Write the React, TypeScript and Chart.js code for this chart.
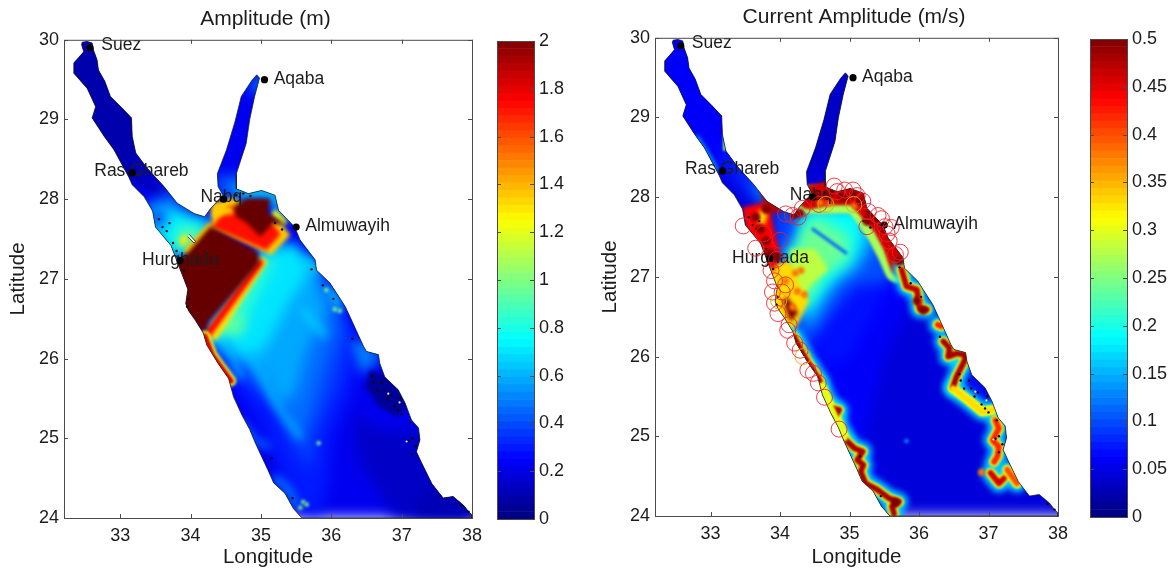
import React, { useEffect, useRef } from "react";
import { Chart, registerables } from "chart.js";

type P = [number, number];

const ampTitle = "Amplitude (m)";
const curTitle = "Current Amplitude (m/s)";
const lonTicks = [33, 34, 35, 36, 37, 38];
const latTicks = [24, 25, 26, 27, 28, 29, 30];
const ampBarTicks = [0, 0.2, 0.4, 0.6, 0.8, 1, 1.2, 1.4, 1.6, 1.8, 2];
const curBarTicks = [0, 0.05, 0.1, 0.15, 0.2, 0.25, 0.3, 0.35, 0.4, 0.45, 0.5];
const barLevels = [0,1,2,3,4,5,6,7,8,9,10,11,12,13,14,15,16,17,18,19,20,21,22,23,24,25,26,27,28,29,30,31,32,33,34,35,36,37,38,39,40,41,42,43,44,45,46,47,48,49,50,51,52,53,54,55,56,57,58,59,60,61,62,63];

const cities: [string, number, number][] = [["Suez", 32.57, 29.9], ["Aqaba", 35.05, 29.5], ["Ras Ghareb", 33.17, 28.33], ["Nabq", 34.47, 28.0], ["Almuwayih", 35.5, 27.65], ["Hurghada", 33.85, 27.23]];
const cityLabelAnchors: P[] = [[32.73, 29.93], [35.18, 29.51], [32.63, 28.35], [34.14, 28.02], [35.63, 27.66], [33.31, 27.24]];

const coast: P[] = [[32.46,29.97],[32.53,29.98],[32.6,29.96],[32.62,29.87],[32.67,29.75],[32.69,29.62],[32.78,29.48],[32.86,29.29],[33.03,29.14],[33.16,29.02],[33.17,28.79],[33.22,28.58],[33.38,28.39],[33.62,28.16],[33.81,27.95],[34.05,27.82],[34.2,27.78],[34.28,27.88],[34.46,28.05],[34.39,28.16],[34.38,28.32],[34.51,28.62],[34.63,28.97],[34.72,29.29],[34.87,29.49],[34.94,29.56],[34.98,29.52],[34.91,29.29],[34.84,29],[34.79,28.7],[34.65,28.32],[34.65,28.13],[34.82,28.07],[35.01,28.11],[35.2,28.05],[35.25,27.86],[35.48,27.65],[35.555,27.49],[35.77,27.24],[35.79,27.11],[35.98,26.95],[36.2,26.65],[36.31,26.44],[36.46,26.15],[36.5,26.09],[36.67,26.05],[36.69,25.94],[36.76,25.77],[36.95,25.61],[37.05,25.44],[37.14,25.23],[37.24,25.13],[37.26,24.98],[37.21,24.83],[37.28,24.7],[37.43,24.43],[37.59,24.25],[37.73,24.27],[37.88,24.16],[37.95,24.08],[38,24.04],[38,24],[35.58,24],[35.46,24.12],[35.34,24.31],[35.18,24.44],[35.1,24.6],[35.01,24.77],[34.92,24.94],[34.84,25.11],[34.73,25.29],[34.61,25.52],[34.54,25.75],[34.39,25.94],[34.23,26.17],[34.18,26.32],[34.06,26.49],[33.97,26.6],[33.93,26.69],[33.96,26.87],[33.82,27.19],[33.72,27.42],[33.5,27.65],[33.46,27.85],[33.34,28.03],[33.17,28.18],[33.12,28.28],[32.91,28.62],[32.77,28.79],[32.6,29.02],[32.65,29.16],[32.53,29.39],[32.34,29.58],[32.34,29.71],[32.48,29.85],[32.45,29.94]];

const everywhere: P[] = [[32,24],[38.2,24],[38.2,30.2],[32,30.2]];

const reefs: P[] = [[33.6,27.65],[33.66,27.6],[33.7,27.7],[33.75,27.45],[33.8,27.35],[33.55,27.75],[33.9,27.1],[33.97,26.75],[33.95,26.65],[34.65,28.05],[34.7,28.03],[34.75,28.07],[34.85,28.04],[35.2,27.7],[35.3,27.62],[35.72,27.12],[35.88,26.92],[36.03,26.75],[36.3,26.25],[36.6,25.7],[36.75,25.6],[36.9,25.4],[36.95,25.35],[36.8,25.5],[36.65,25.6],[36.58,25.78],[36.72,25.7],[36.85,25.55],[37,25.3],[36.98,25.5],[37.12,25.2],[37.1,24.97],[37.15,25],[37.15,24.8],[37.2,24.9],[37.85,24.15],[37.95,24.08],[35.15,24.75],[35.45,24.25]];
const reefLights: P[] = [[36.81,25.56],[36.97,25.45],[37.07,24.96]];
const islands: P[] = [[33.98,27.56],[34.07,27.47],[34.05,27.45],[33.96,27.53]];

/* Amplitude panel: [value in m, outline] contour bands */
const ampBands: [number, P[]][] = [
  [0.22, everywhere],
  [0.09, [[32.2,30],[33.4,30],[33.4,28.9],[33.6,28.35],[33.75,28.1],[33.55,28.05],[33,28.3],[32.2,29]]],
  [0.16, [[33.2,28.55],[33.45,28.5],[33.75,28.15],[33.6,28.05],[33.3,28.2]]],
  [0.38, [[33.55,28.05],[33.72,28.2],[33.95,27.95],[33.7,27.85]]],
  [0.14, [[36.3,25.3],[36.7,25.1],[37.4,25.1],[38,24.3],[38,24],[36.9,24],[36.4,24.7]]],
  [0.1, [[37.1,24],[37.5,24.5],[38,24.3],[38,24]]],
  [0.55, [[34.8,29.4],[35.1,29.6],[35.1,29.35],[34.95,29.35]]],
  [0.42, [[34.35,28.3],[34.75,28.3],[34.7,28.05],[34.35,28.05]]],
  [0.3, [[34.1,26.4],[35.2,27.6],[36,27],[36.4,26.2],[36.3,25.6],[36,25],[35.95,24.4],[35.8,24],[35.5,24.2],[35.2,24.7],[35,25.2],[34.75,25.5],[34.55,25.8]]],
  [0.38, [[34.15,26.35],[35.2,27.5],[35.95,27],[36.25,26.3],[36.1,25.7],[35.8,25.1],[35.7,24.6],[35.45,24.9],[35.2,25.4],[34.8,25.7],[34.6,25.85]]],
  [0.47, [[34.2,26.3],[35.15,27.45],[35.85,27.05],[36.1,26.4],[35.9,25.9],[35.7,25.3],[35.55,25],[35.35,25.3],[35.05,25.65],[34.7,25.95]]],
  [0.58, [[34.22,26.3],[35.1,27.45],[35.7,27.2],[35.95,26.6],[35.65,26.1],[35.5,25.6],[35.3,25.4],[35,25.85],[34.7,26.05]]],
  [0.7, [[34.3,26.3],[35.05,27.3],[35.5,27.45],[35.7,27.1],[35.4,26.7],[35.1,26.2],[34.9,26],[34.55,26.1]]],
  [0.85, [[34.3,26.35],[35.05,27.3],[35.2,27.25],[34.65,26.28]]],
  [0.95, [[34.3,26.4],[34.55,26.6],[34.8,26.45],[34.7,26.33],[34.4,26.3]]],
  [1.3, [[34.22,26.3],[35,27.28],[35.1,27.22],[34.36,26.22]]],
  [1.75, [[34.2,26.33],[34.98,27.27],[35.04,27.2],[34.28,26.27]]],
  [0.72, [[33.4,27.95],[33.65,27.95],[33.8,27.9],[34.05,27.8],[34.3,27.75],[34.3,27.6],[33.9,27.25],[33.7,27.3],[33.4,27.6]]],
  [0.25, [[33.45,27.87],[33.65,27.85],[33.62,27.68],[33.47,27.65]]],
  [0.95, [[33.8,27.62],[34.05,27.65],[34.2,27.55],[33.95,27.35],[33.8,27.4]]],
  [1.3, [[33.85,27.52],[33.95,27.56],[33.95,27.45],[33.85,27.42]]],
  [1.35, [[33.9,27.36],[34.27,27.72],[34.35,27.62],[34,27.27]]],
  [0.72, [[34.62,28.2],[35.25,28.15],[35.45,27.7],[35.25,27.8],[35.15,28],[34.65,28]]],
  [1.2, [[35.2,27.88],[35.38,27.72],[35.3,27.66],[35.14,27.8]]],
  [1.35, [[34.3,27.95],[34.6,28.02],[34.9,27.85],[35.3,27.68],[35.42,27.55],[35.15,27.3],[34.3,27.62]]],
  [1.72, [[34.55,27.92],[34.8,27.85],[35.2,27.66],[35.28,27.56],[35.08,27.36],[34.3,27.65]]],
  [1.35, [[34.32,27.9],[34.6,27.9],[34.62,27.82],[34.3,27.78]]],
  [2.05, [[34.61,27.91],[34.8,28.01],[35.13,28.01],[35.1,27.82],[35.37,27.68],[35.18,27.7],[34.99,27.53],[34.8,27.7],[34.65,27.78]]],
  [2.05, [[34.28,27.66],[34.96,27.33],[34.97,27.19],[34.25,26.46],[34.2,26.3],[33.9,26.55],[33.75,27.19],[33.96,27.33]]],
  [0.6, [[36.35,26.25],[36.5,26.15],[36.6,26],[36.5,25.8],[36.4,25.9]]],
  [0.05, [[36.55,25.86],[36.48,25.65],[36.67,25.4],[36.93,25.27],[37.1,25.4],[36.98,25.65],[36.76,25.8]]],
  [0.16, [[34.99,24.83],[35.13,24.65],[35,24.6],[34.9,24.8]]],
];

const ampPlumes: [number, P[]][] = [
  [0.62, [[34.84,26.07],[35.27,25.36],[35.55,25.02]]],
  [0.6, [[34.51,26.23],[34.7,25.77]]],
  [0.66, [[35.6,26.6],[35.9,26.3]]],
  [0.48, [[34.72,25.2],[34.95,24.95],[35.1,24.9]]],
  [0.55, [[35.2,24.5],[35.4,24.35],[35.5,24.15]]],
  [0.5, [[36.35,26.15],[36.5,26.08],[36.65,26]]],
  [0.72, [[35.65,27.25],[35.78,27.1]]],
  [0.72, [[36,26.85],[36.12,26.65]]],
];
const ampBright: P[] = [[35.6,24.2],[35.56,24.13],[35.65,24.17],[35.82,24.94],[35.93,26.86],[36.05,26.62],[36.12,26.6]];
const ampCoastHot: P[] = [[34.2,26.28],[34.3,26.05],[34.42,25.9],[34.57,25.72]];

/* Current panel */
const curBands: [number, P[]][] = [
  [0.045, everywhere],
  [0.06, [[32.2,30],[33.3,30],[33.3,29],[33.6,28.5],[33.3,28.2],[32.2,29]]],
  [0.08, [[33.1,28.6],[33.5,28.5],[33.75,28.1],[33.5,28]]],
  [0.13, [[33.6,28.2],[33.75,28.25],[34,27.9],[33.7,27.9]]],
  [0.035, [[34.3,28.4],[35,28.4],[35,29.6],[34.3,29.6]]],
  [0.06, [[34.1,26.5],[35.4,27.2],[35.9,26.8],[35.5,26],[35.2,25],[35.6,24],[35,24],[34.3,25.8]]],
  [0.07, [[34.2,26.4],[35.2,27.1],[35.5,26.8],[35,26],[34.7,25.9]]],
  [0.1, [[33.9,28.1],[34.2,27.85],[34.5,27.95],[35,27.9],[35.5,27.6],[35.7,27.25],[35.55,26.9],[35.1,26.9],[34.7,26.5],[34.35,26.1],[34.2,26.3]]],
  [0.14, [[34.2,27.8],[35.3,27.8],[35.35,27.4],[35.15,27.1],[34.8,26.9],[34.45,26.35],[34.2,26.6],[34,27.3]]],
  [0.19, [[34.4,27.85],[35.2,27.85],[35.2,27.45],[35.05,27.2],[34.7,26.9],[34.35,26.5],[34.1,27.2],[34.2,27.5]]],
  [0.24, [[34.4,27.7],[34.55,27.75],[35,27.5],[34.97,27.2],[34.65,27.05],[34.35,26.6],[34.2,27.1],[34.2,27.4]]],
  [0.09, [[33.92,27.8],[34.2,27.76],[34.16,27.45],[33.98,27.35],[33.95,27.6]]],
  [0.28, [[34.15,27.35],[34.5,27.35],[34.7,27.1],[34.45,26.9],[34.3,26.7],[34.15,27]]],
  [0.33, [[33.8,27.15],[34.15,27.2],[34.3,26.85],[34.42,26.7],[34.22,26.35],[34.3,26.1],[34.1,26.3],[33.85,26.7]]],
  [0.5, [[34.1,26.75],[34.26,26.55],[34.15,26.43],[34.04,26.7]]],
  [0.44, [[33.45,27.87],[33.85,27.95],[33.9,27.65],[34,27.3],[33.9,27.05],[33.75,27.25],[33.5,27.6]]],
  [0.33, [[33.7,27.85],[33.82,27.8],[33.78,27.65],[33.68,27.68]]],
  [0.47, [[33.72,28.12],[33.95,27.97],[34.08,27.82],[33.85,27.8],[33.75,27.95]]],
  [0.46, [[35.6,27.4],[35.8,27.36],[35.82,27.15],[35.65,27.15]]],
  [0.07, [[36.56,25.85],[36.75,25.77],[37,25.5],[36.95,25.35],[36.7,25.48],[36.55,25.62]]],
];

const curBlueBand: P[] = [[34.47,27.6],[34.95,27.3]];
const curNorthHalo: P[] = [[34.4,27.97],[34.7,27.97],[35.1,27.97],[35.3,27.75],[35.45,27.55],[35.6,27.3],[35.7,27.1]];
const curNorthHot: P[] = [[34.42,28],[34.7,28.05],[35.1,28.05],[35.3,27.85],[35.5,27.65],[35.65,27.4],[35.75,27.15]];
const curGulfCoastA: P[] = [[32.8,28.75],[32.95,28.55],[33.08,28.35]];
const curGulfCoastB: P[] = [[33.2,28.78],[33.2,28.6]];

const curReefPaths: [number, P[]][] = [
  [0.47, [[35.75,27.09],[35.82,26.88],[35.97,26.84],[35.99,26.71],[36.01,26.6],[36.11,26.59]]],
  [0.42, [[36.27,26.4],[36.32,26.38]]],
  [0.48, [[36.35,26.19],[36.44,26.11],[36.42,26],[36.54,26.04],[36.68,26.02],[36.65,25.94],[36.54,25.75],[36.49,25.62]]],
  [0.33, [[36.49,25.6],[36.7,25.46],[36.91,25.31],[37.06,25.33]]],
  [0.42, [[37.1,25.2],[37.15,25.1],[37.06,24.95],[37.15,24.87],[37.13,24.75],[37.08,24.68]]],
  [0.46, [[37.03,24.54],[37.15,24.41],[37.22,24.47]]],
  [0.4, [[37.27,24.58],[37.41,24.41]]],
  [0.48, [[34.2,26.25],[34.35,26],[34.57,25.7]]],
  [0.48, [[34.76,25.35],[34.85,25.33],[34.78,25.23]]],
  [0.48, [[34.95,24.95],[35.07,24.85],[35.19,24.81],[35.11,24.7],[35.2,24.64],[35.16,24.56],[35.23,24.41],[35.4,24.33],[35.57,24.22],[35.71,24.18],[35.61,24.12],[35.64,24.03]]],
  [0.3, [[34.6,25.62],[34.7,25.42],[34.85,25.15],[34.93,24.98]]],
];
const curHotSpots: P[] = [[34.5,28.02],[34.7,28.03],[34.9,28],[35.05,28.03],[35.15,27.95],[35.3,27.8],[35.4,27.7],[35.5,27.6],[35.72,27.2],[33.65,27.75],[33.72,27.6],[33.8,27.45],[33.85,27.3],[33.95,27.25],[33.8,27.85],[35.25,27.7],[34.2,27.78],[34.28,27.8],[35.97,26.7],[36.06,26.58],[35.66,24.17]];
const curWarmSpots: P[] = [[34.22,27.05],[34.3,27.08],[34.25,26.82],[34.35,26.78],[34.08,26.95],[34.18,26.62],[34.7,27.92],[34.58,27.93],[35.08,27.9],[36.01,26.7],[36.9,24.55]];
const curPaleSpots: P[] = [[35.82,24.94],[36.05,26.95]];
const curCircles: P[] = [[33.47,27.64],[33.65,27.36],[34,27.46],[33.95,27.22],[34.26,27.75],[34.08,27.79],[34.18,27.77],[34.32,27.86],[34.56,27.91],[34.78,28.14],[34.82,28.07],[34.93,28.09],[35.05,28.09],[35.11,28.02],[35.19,27.95],[35.27,27.82],[35.41,27.77],[35.46,27.73],[35.51,27.63],[35.54,27.54],[35.57,27.45],[35.73,27.31],[35.25,27.63],[33.87,27.08],[33.92,26.95],[33.89,26.81],[33.92,26.67],[34.03,26.81],[34.08,26.9],[33.97,26.54],[34.13,26.4],[34.11,26.33],[34.21,26.17],[34.29,26.08],[34.4,25.83],[34.48,25.79],[34.55,25.67],[34.64,25.49],[34.85,25.09],[33.76,27.54],[35.66,27.28],[35.6,27.62]];
const curYellowCircles: P[] = [[34.66,27.91],[35.06,27.91],[33.98,26.7],[34.33,26]];

const jet = (v: number, max: number) => {
  const t = v / max;
  const c = (a: number) => Math.round(255 * Math.max(0, Math.min(1, a)));
  return `rgb(${c(Math.min(4 * t - 1.5, -4 * t + 4.5))},${c(Math.min(4 * t - 0.5, -4 * t + 3.5))},${c(Math.min(4 * t + 0.5, -4 * t + 2.5))})`;
};
const xy = (pts: P[]) => pts.map(([x, y]) => ({ x, y }));

const FONT = "'Liberation Sans', Arial, sans-serif";
const INK = "#1c1c1c";

const panelPaint = {
  id: "panelPaint",
  afterLayout(chart: any) {
    if (chart.titleBlock && chart.options.plugins.title.display) chart.titleBlock.left -= 5;
  },
  beforeDatasetDraw(chart: any, args: any) {
    const ds = chart.data.datasets[args.index];
    if (!ds) return;
    const ctx = chart.ctx;
    if (ds.cityLabelsFirst) {
      const { x, y } = chart.scales;
      ctx.save();
      ctx.font = `17.5px ${FONT}`;
      ctx.fillStyle = INK;
      ctx.textBaseline = "middle";
      cities.forEach((c, i) => ctx.fillText(c[0], x.getPixelForValue(cityLabelAnchors[i][0]), y.getPixelForValue(cityLabelAnchors[i][1])));
      ctx.restore();
    }
    if (ds.fieldLayer) {
      const { x, y } = chart.scales;
      ctx.save();
      ctx.beginPath();
      coast.forEach((p, i) => {
        const a = x.getPixelForValue(p[0]);
        const b = y.getPixelForValue(p[1]);
        if (i) ctx.lineTo(a, b);
        else ctx.moveTo(a, b);
      });
      ctx.closePath();
      ctx.clip();
      ctx.filter = `blur(${ds.fieldBlur}px)`;
    }
  },
  afterDatasetDraw(chart: any, args: any) {
    const ds = chart.data.datasets[args.index];
    if (ds && ds.fieldLayer) chart.ctx.restore();
  },
  afterDraw(chart: any) {
    const { ctx, chartArea: a, scales } = chart;
    const { left, right, top, bottom } = a;
    ctx.save();
    ctx.strokeStyle = "#4a4a4a";
    ctx.lineWidth = 1;
    const seg = (x1: number, y1: number, x2: number, y2: number) => {
      ctx.beginPath();
      ctx.moveTo(x1, y1);
      ctx.lineTo(x2, y2);
      ctx.stroke();
    };
    ctx.strokeRect(left + 0.5, top + 0.5, right - left, bottom - top);
    if (scales.x && scales.x.options.display) {
      scales.x.ticks.forEach((t: any) => {
        const p = Math.round(scales.x.getPixelForValue(t.value)) + 0.5;
        seg(p, bottom, p, bottom - 4);
        seg(p, top, p, top + 4);
      });
    }
    scales.y.ticks.forEach((t: any) => {
      const p = Math.round(scales.y.getPixelForValue(t.value)) + 0.5;
      seg(left, p, left + 4, p);
      seg(right, p, right - 4, p);
    });
    ctx.restore();
  },
};

Chart.register(panelPaint as any, ...registerables);

const bandBlur = (ratio: number) => (ratio > 0.5 || ratio < 0.05 ? 2 : 7);
const bandDs = (v: number, max: number, pts: P[]) => ({ data: xy(pts), showLine: true, fill: "shape", backgroundColor: jet(v, max), borderWidth: 0, pointRadius: 0, fieldLayer: true, fieldBlur: bandBlur(v / max) });
const lineDs = (v: number, max: number, pts: P[], w: number, blur = 1.5) => ({ data: xy(pts), showLine: true, fill: false, borderColor: jet(v, max), borderWidth: w, borderCapStyle: "round", borderJoinStyle: "round", pointRadius: 0, fieldLayer: true, fieldBlur: blur });
const spotDs = (v: number, max: number, pts: P[], r: number) => ({ data: xy(pts), showLine: false, pointRadius: r, pointBackgroundColor: jet(v, max), pointBorderWidth: 0, fieldLayer: true, fieldBlur: 1.5 });
const coastDs = () => ({ data: xy([...coast, coast[0]]), showLine: true, fill: false, borderColor: "rgba(20,30,20,0.8)", borderWidth: 0.9, pointRadius: 0 });
const islandDs = () => ({ data: xy(islands), showLine: true, fill: "shape", backgroundColor: "#ffffff", borderColor: "#111", borderWidth: 0.8, pointRadius: 0 });
const reefDs = (extra: object = {}) => ({ data: xy(reefs), showLine: false, pointRadius: 1.2, pointBackgroundColor: "#0a0a0a", pointBorderWidth: 0, ...extra });
const lightDs = () => ({ data: xy(reefLights), showLine: false, pointRadius: 1.1, pointBackgroundColor: "#e8e8e8", pointBorderWidth: 0 });
const dotDs = () => ({ data: cities.map((c) => ({ x: c[1], y: c[2] })), showLine: false, pointRadius: 3.6, pointBackgroundColor: "#000", pointBorderWidth: 0 });
const ringDs = (pts: P[], color: string) => ({ data: xy(pts), showLine: false, pointRadius: 8, pointBackgroundColor: "transparent", pointBorderColor: color, pointBorderWidth: 1 });

const withOrder = (list: any[]) => list.map((d, i) => ({ ...d, order: list.length - i }));

const ampDatasets = () => withOrder([
  ...ampBands.map(([v, p]) => bandDs(v, 2, p)),
  ...ampPlumes.map(([v, p]) => lineDs(v, 2, p, 6, 5)),
  spotDs(1.0, 2, ampBright, 2.2),
  lineDs(1.2, 2, ampCoastHot, 11),
  lineDs(1.8, 2, ampCoastHot, 6, 1),
  coastDs(), islandDs(), reefDs({ cityLabelsFirst: true }), lightDs(), dotDs(),
]);
const curDatasets = () => withOrder([
  ...curBands.map(([v, p]) => bandDs(v, 0.5, p)),
  lineDs(0.11, 0.5, curBlueBand, 3),
  lineDs(0.15, 0.5, curGulfCoastA, 4, 2),
  lineDs(0.25, 0.5, curGulfCoastB, 3, 1),
  lineDs(0.27, 0.5, curNorthHalo, 28),
  lineDs(0.46, 0.5, curNorthHot, 24),
  ...curReefPaths.map(([, p]) => lineDs(0.17, 0.5, p, 18, 3)),
  ...curReefPaths.map(([, p]) => lineDs(0.31, 0.5, p, 10, 1)),
  ...curReefPaths.map(([v, p]) => lineDs(v, 0.5, p, 6, 0.8)),
  spotDs(0.38, 0.5, curWarmSpots, 3.5),
  spotDs(0.15, 0.5, curPaleSpots, 2),
  coastDs(),
  reefDs({ cityLabelsFirst: true }),
  lightDs(),
  spotDs(0.5, 0.5, curHotSpots, 4.5),
  dotDs(), ringDs(curCircles, "rgba(240,30,40,0.85)"), ringDs(curYellowCircles, "rgba(230,170,0,0.9)"),
]);

type Geo = { left: number; width: number; plotLeft: number; plotRight: number; plotTop: number; plotBottom: number; yTitlePad: number };

const mapConfig = (g: Geo, title: string, datasets: any[]) => ({
  type: "scatter",
  data: { datasets },
  options: {
    responsive: false,
    animation: false,
    events: [],
    layout: { padding: { right: g.left + g.width - g.plotRight } },
    plugins: {
      legend: { display: false },
      tooltip: { enabled: false },
      title: { display: true, text: title, fullSize: false, color: INK, font: { family: FONT, size: 21, weight: "normal", lineHeight: 1.2 }, padding: { top: g.plotTop - 33.4, bottom: 8 } },
    },
    scales: {
      x: {
        type: "linear", min: 32.2, max: 38,
        afterBuildTicks: (s: any) => { s.ticks = lonTicks.map((value) => ({ value })); },
        afterFit: (s: any) => { s.height = 573 - g.plotBottom; },
        grid: { display: false, drawTicks: false },
        border: { display: false },
        ticks: { color: INK, font: { family: FONT, size: 18 }, padding: 7, maxRotation: 0, autoSkip: false, callback: (v: number) => String(v) },
        title: { display: true, text: "Longitude", color: INK, font: { family: FONT, size: 20.5 }, padding: { top: 0, bottom: 3 } },
      },
      y: {
        type: "linear", min: 24, max: 30,
        afterBuildTicks: (s: any) => { s.ticks = latTicks.map((value) => ({ value })); },
        afterFit: (s: any) => { s.width = g.plotLeft - g.left; },
        grid: { display: false, drawTicks: false },
        border: { display: false },
        ticks: { color: INK, font: { family: FONT, size: 18 }, padding: 5, autoSkip: false, callback: (v: number) => String(v) },
        title: { display: true, text: "Latitude", color: INK, font: { family: FONT, size: 20.5 }, padding: { top: g.yTitlePad, bottom: 0 } },
      },
    },
  },
});

const barConfig = (max: number, tickVals: number[], top: number, bottom: number, padLeft: number, barW: number, canvasW: number) => ({
  type: "bar",
  data: {
    labels: [""],
    datasets: barLevels.map((i) => ({
      data: [max / barLevels.length],
      backgroundColor: jet((i + 0.5) * (max / barLevels.length), max),
      borderWidth: 0,
      barPercentage: 1,
      categoryPercentage: 1,
    })),
  },
  options: {
    responsive: false,
    animation: false,
    events: [],
    layout: { padding: { left: padLeft, top, bottom: 573 - bottom } },
    plugins: { legend: { display: false }, tooltip: { enabled: false } },
    scales: {
      x: { display: false, stacked: true },
      y: {
        position: "right", stacked: true, min: 0, max,
        afterBuildTicks: (s: any) => { s.ticks = tickVals.map((value) => ({ value })); },
        afterFit: (s: any) => { s.width = canvasW - padLeft - barW; },
        grid: { display: false, drawTicks: false },
        border: { display: false },
        ticks: { color: INK, font: { family: FONT, size: 18 }, padding: 5, autoSkip: false, callback: (v: number) => String(v) },
      },
    },
  },
});

const ampGeo: Geo = { left: 0, width: 490, plotLeft: 64, plotRight: 472, plotTop: 40, plotBottom: 518, yTitlePad: 6 };
const curGeo: Geo = { left: 585, width: 490, plotLeft: 655, plotRight: 1063, plotTop: 38, plotBottom: 516, yTitlePad: 13 };

const slots = [
  { left: 0, top: 0, width: 490 },
  { left: 490, top: 0, width: 95 },
  { left: 585, top: 0, width: 490 },
  { left: 1075, top: 0, width: 95 },
];

export default function App() {
  const refs = useRef<(HTMLCanvasElement | null)[]>([]);
  useEffect(() => {
    const configs: any[] = [
      mapConfig(ampGeo, ampTitle, ampDatasets()),
      barConfig(2, ampBarTicks, 41, 519, 7, 37, 95),
      mapConfig(curGeo, curTitle, curDatasets()),
      barConfig(0.5, curBarTicks, 39, 517, 15, 37, 95),
    ];
    const charts = configs.map((c, i) => new Chart(refs.current[i] as HTMLCanvasElement, c));
    return () => charts.forEach((c) => c.destroy());
  }, []);
  return (
    <div style={{ position: "fixed", left: 0, top: 0, width: 1170, height: 573, background: "#fff", overflow: "hidden" }}>
      {slots.map((s, i) => (
        <canvas
          key={i}
          ref={(el) => { refs.current[i] = el; }}
          width={s.width}
          height={573}
          style={{ position: "absolute", left: s.left, top: s.top, width: s.width, height: 573, filter: "blur(0.45px)" }}
        />
      ))}
    </div>
  );
}
